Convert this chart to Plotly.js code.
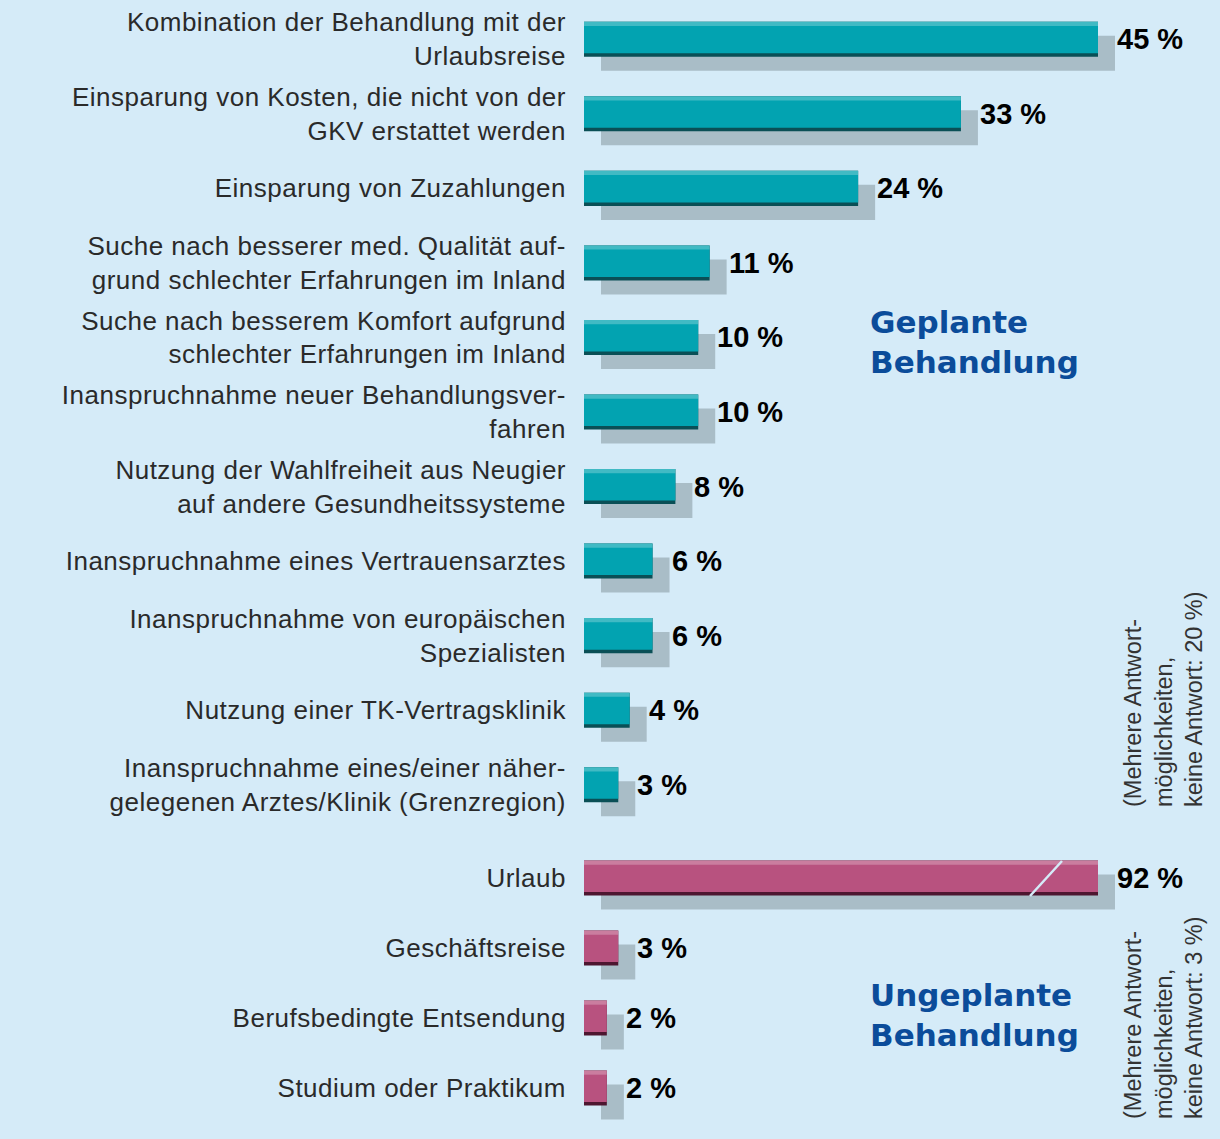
<!DOCTYPE html>
<html><head><meta charset="utf-8">
<script src="https://cdn.plot.ly/plotly-3.0.1.min.js"></script>
<style>html,body{margin:0;padding:0;background:#d5ebf8;}
.y3tick text, .y4tick text{letter-spacing:0.5px;}
</style>
</head><body><div id="chart" style="width:1220px;height:1139px;"></div>
<script>
const plannedLabels = [
  "Kombination der Behandlung mit der<br>Urlaubsreise",
  "Einsparung von Kosten, die nicht von der<br>GKV erstattet werden",
  "Einsparung von Zuzahlungen",
  "Suche nach besserer med. Qualität auf-<br>grund schlechter Erfahrungen im Inland",
  "Suche nach besserem Komfort aufgrund<br>schlechter Erfahrungen im Inland",
  "Inanspruchnahme neuer Behandlungsver-<br>fahren",
  "Nutzung der Wahlfreiheit aus Neugier<br>auf andere Gesundheitssysteme",
  "Inanspruchnahme eines Vertrauensarztes",
  "Inanspruchnahme von europäischen<br>Spezialisten",
  "Nutzung einer TK-Vertragsklinik",
  "Inanspruchnahme eines/einer näher-<br>gelegenen Arztes/Klinik (Grenzregion)"
];
const plannedValues = [45, 33, 24, 11, 10, 10, 8, 6, 6, 4, 3];

const unplannedLabels = ["Urlaub", "Geschäftsreise", "Berufsbedingte Entsendung", "Studium oder Praktikum"];
const unplannedValues = [92, 3, 2, 2];

const plannedTitle = "Geplante<br>Behandlung";
const unplannedTitle = "Ungeplante<br>Behandlung";
const plannedNote = "(Mehrere Antwort-<br>möglichkeiten,<br>keine Antwort: 20 %)";
const unplannedNote = "(Mehrere Antwort-<br>möglichkeiten,<br>keine Antwort: 3 %)";

const AXIS_MAX = 45;
const BG = '#d5ebf8';
const TEAL = '#02a3b1', TEAL_DARK = '#0a4f56';
const MAG = '#b8527f', MAG_DARK = '#4d1630';
const SHADOW = '#a9bdc7';

function px(x){return x/1220;}
function py(y){return (1139-y)/1139;}

function barSet(labels, values, xa, ya, color, dark, w){
  const common = {type:'bar', orientation:'h', y:labels, x:values, xaxis:xa, yaxis:ya, hoverinfo:'skip', showlegend:false};
  return [
    Object.assign({}, common, {width:w, offset:-w/2, marker:{color:dark, line:{width:0}}}),
    Object.assign({}, common, {width:w*0.9, offset:-w/2, marker:{color:color, line:{width:0}}}),
    Object.assign({}, common, {width:w*0.12, offset:-w/2, marker:{color:'rgba(255,255,255,0.25)', line:{width:0}}})
  ];
}
function shadowSet(labels, values, xa, ya, w){
  return [{type:'bar', orientation:'h', y:labels, x:values, xaxis:xa, yaxis:ya, width:w, offset:-w/2,
    marker:{color:SHADOW, line:{width:0}}, hoverinfo:'skip', showlegend:false}];
}

const W1 = 0.47, W2 = 0.5;
const data = [].concat(
  shadowSet(plannedLabels, plannedValues, 'x', 'y', W1),
  shadowSet(unplannedLabels, unplannedValues, 'x2', 'y2', W2),
  barSet(plannedLabels, plannedValues, 'x3', 'y3', TEAL, TEAL_DARK, W1),
  barSet(unplannedLabels, unplannedValues, 'x4', 'y4', MAG, MAG_DARK, W2)
);

const hiddenX = {range:[0, AXIS_MAX], showgrid:false, zeroline:false, showticklabels:false, ticks:'', showline:false, fixedrange:true};
const hiddenY = {type:'category', autorange:'reversed', showgrid:false, zeroline:false, showticklabels:false, ticks:'', showline:false};
const tickFont = {family:'Liberation Sans, Arial, sans-serif', size:26, color:'#2a2a2a'};
const shownY = Object.assign({}, hiddenY, {showticklabels:true, tickfont:tickFont, ticklabelstandoff:17});

const valueFont = {family:'Liberation Sans, Arial, sans-serif', size:29, color:'#000', weight:700};
const annotations = [];
plannedLabels.forEach((l,i)=>annotations.push({xref:'x3', yref:'y3', x:Math.min(plannedValues[i], AXIS_MAX), y:l,
  text:plannedValues[i]+' %', xanchor:'left', yanchor:'middle', xshift:17, showarrow:false, font:valueFont}));
unplannedLabels.forEach((l,i)=>annotations.push({xref:'x4', yref:'y4', x:Math.min(unplannedValues[i], AXIS_MAX), y:l,
  text:unplannedValues[i]+' %', xanchor:'left', yanchor:'middle', xshift:17, showarrow:false, font:valueFont}));

const titleFont = {family:'DejaVu Sans, sans-serif', size:31, color:'#0b4c9a', weight:700};
annotations.push({xref:'paper', yref:'paper', x:px(868), y:py(342), text:plannedTitle, align:'left', xanchor:'left', yanchor:'middle', showarrow:false, font:titleFont});
annotations.push({xref:'paper', yref:'paper', x:px(868), y:py(1015), text:unplannedTitle, align:'left', xanchor:'left', yanchor:'middle', showarrow:false, font:titleFont});

const noteFont = {family:'Liberation Sans, Arial, sans-serif', size:23.5, color:'#333'};
annotations.push({xref:'paper', yref:'paper', x:px(1163), y:py(699), text:plannedNote, textangle:-90, align:'left', xanchor:'center', yanchor:'middle', showarrow:false, font:noteFont});
annotations.push({xref:'paper', yref:'paper', x:px(1163), y:py(1018), text:unplannedNote, textangle:-90, align:'left', xanchor:'center', yanchor:'middle', showarrow:false, font:noteFont});

const layout = {
  width:1220, height:1139,
  margin:{l:0, r:0, t:0, b:0, pad:0},
  paper_bgcolor:BG, plot_bgcolor:'rgba(0,0,0,0)',
  barmode:'overlay',
  showlegend:false,
  xaxis: Object.assign({}, hiddenX, {domain:[px(601), px(1115)]}),
  yaxis: Object.assign({}, hiddenY, {domain:[py(836), py(16)]}),
  xaxis2: Object.assign({}, hiddenX, {domain:[px(601), px(1115)], anchor:'y2'}),
  yaxis2: Object.assign({}, hiddenY, {domain:[py(1137), py(857)], anchor:'x2'}),
  xaxis3: Object.assign({}, hiddenX, {domain:[px(584), px(1098)], anchor:'y3'}),
  yaxis3: Object.assign({}, shownY, {domain:[py(822), py(2)], anchor:'x3'}),
  xaxis4: Object.assign({}, hiddenX, {domain:[px(584), px(1098)], anchor:'y4'}),
  yaxis4: Object.assign({}, shownY, {domain:[py(1123), py(843)], anchor:'x4'}),
  annotations: annotations,
  shapes: [
    {type:'line', xref:'paper', yref:'paper', x0:px(1030), y0:py(896), x1:px(1062), y1:py(861), line:{color:BG, width:2.5}}
  ]
};

Plotly.newPlot('chart', data, layout, {displayModeBar:false, staticPlot:true});
</script></body></html>
